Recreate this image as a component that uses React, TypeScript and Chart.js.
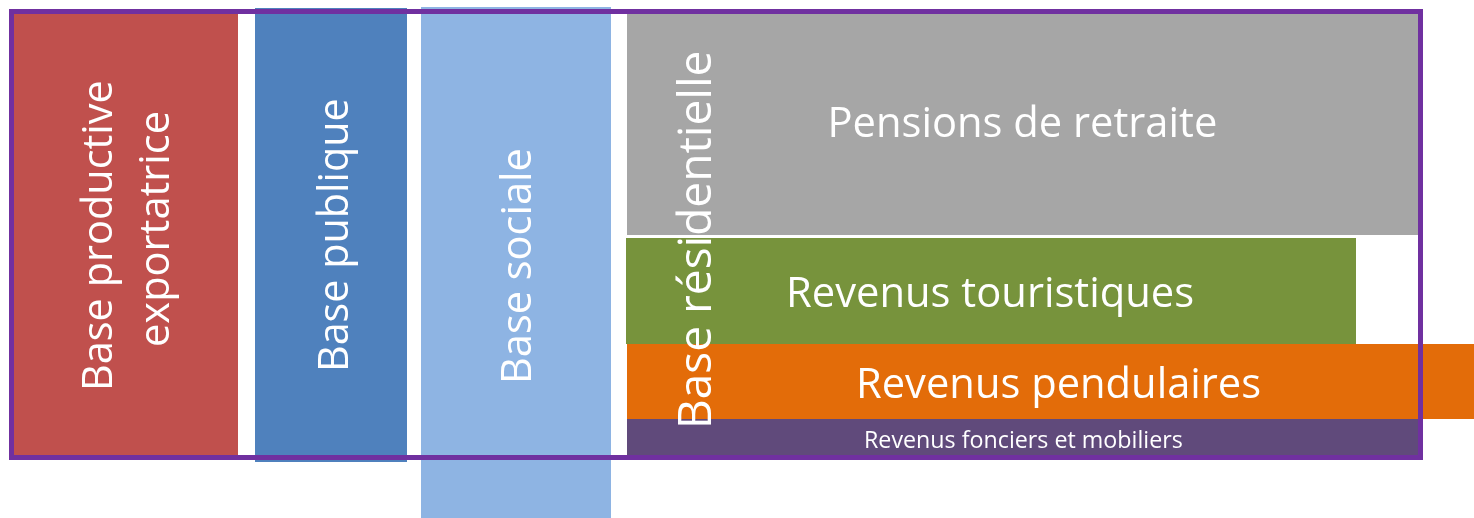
import React, { useEffect, useRef } from "react";
import { Chart, registerables } from "chart.js";

Chart.register(...registerables);

const blockNames = [
  "Base productive exportatrice",
  "Base publique",
  "Base sociale",
  "Pensions de retraite",
  "Revenus touristiques",
  "Revenus pendulaires",
  "Revenus fonciers et mobiliers",
];
const blockStartX = [12, 255, 421, 627, 626, 627, 627];
const blockEndX = [238, 407, 611, 1418, 1356, 1474, 1418];
const blockStartY = [12, 8, 7, 12, 238, 344, 419];
const blockEndY = [456, 462, 518, 235, 344, 419, 456];
const blockColors = ["#C0504D", "#4F81BD", "#8EB4E3", "#A6A6A6", "#77933C", "#E36C09", "#604A7B"];

// Outline of "Base résidentielle" grouping frame
const frameStartX = [11.5];
const frameEndX = [1420.5];
const frameStartY = [11.5];
const frameEndY = [457.5];
const frameColor = "#7030A0";

// Text labels
const labelTexts = [
  "Base productive",
  "exportatrice",
  "Base publique",
  "Base sociale",
  "Base résidentielle",
  "Pensions de retraite",
  "Revenus touristiques",
  "Revenus pendulaires",
  "Revenus fonciers et mobiliers",
];
const labelVertical = [true, true, true, true, true, false, false, false, false];
// centre along the text direction
const labelAlong = [234.5, 229, 234, 265, 239, 1023.5, 991.5, 1060, 1024];
// centre of capital height, across the text direction
const labelAcross = [96.7, 154, 332.7, 516, 694, 121.7, 292, 382.5, 439];
// ink length of the text
const labelLength = [305, 232, 268, 230, 372, 384, 403, 400, 316];

const FONT = '"Open Sans", "Noto Sans", sans-serif';

const schemaPlugin = {
  id: "schema",
  beforeDatasetsDraw(chart: any) {
    const { ctx, scales } = chart;
    const xs = scales.x;
    const ys = scales.y;
    ctx.save();
    // blocks
    for (let i = 0; i < blockNames.length; i++) {
      const x0 = xs.getPixelForValue(blockStartX[i]);
      const x1 = xs.getPixelForValue(blockEndX[i]);
      const y0 = ys.getPixelForValue(blockStartY[i]);
      const y1 = ys.getPixelForValue(blockEndY[i]);
      ctx.fillStyle = blockColors[i];
      ctx.fillRect(Math.min(x0, x1), Math.min(y0, y1), Math.abs(x1 - x0), Math.abs(y1 - y0));
    }
    // labels
    ctx.fillStyle = "#FFFFFF";
    for (let i = 0; i < labelTexts.length; i++) {
      const text = labelTexts[i];
      const vertical = labelVertical[i];
      let len: number;
      let along: number;
      let across: number;
      if (vertical) {
        len = Math.abs(ys.getPixelForValue(labelLength[i]) - ys.getPixelForValue(0));
        along = ys.getPixelForValue(labelAlong[i]);
        across = xs.getPixelForValue(labelAcross[i]);
      } else {
        len = Math.abs(xs.getPixelForValue(labelLength[i]) - xs.getPixelForValue(0));
        along = xs.getPixelForValue(labelAlong[i]);
        across = ys.getPixelForValue(labelAcross[i]);
      }
      ctx.font = `100px ${FONT}`;
      let m = ctx.measureText(text);
      const ink100 = m.actualBoundingBoxLeft + m.actualBoundingBoxRight;
      const size = (100 * len) / ink100;
      ctx.font = `${size}px ${FONT}`;
      m = ctx.measureText(text);
      const capH = ctx.measureText("H").actualBoundingBoxAscent;
      ctx.textAlign = "left";
      ctx.textBaseline = "alphabetic";
      const startX = -len / 2 + m.actualBoundingBoxLeft;
      ctx.save();
      if (vertical) {
        ctx.translate(across + capH / 2, along);
        ctx.rotate(-Math.PI / 2);
      } else {
        ctx.translate(along, across + capH / 2);
      }
      ctx.fillText(text, startX, 0);
      ctx.restore();
    }
    // frame
    ctx.strokeStyle = frameColor;
    ctx.lineWidth = 5;
    ctx.lineJoin = "miter";
    for (let i = 0; i < frameStartX.length; i++) {
      const x0 = xs.getPixelForValue(frameStartX[i]);
      const x1 = xs.getPixelForValue(frameEndX[i]);
      const y0 = ys.getPixelForValue(frameStartY[i]);
      const y1 = ys.getPixelForValue(frameEndY[i]);
      ctx.strokeRect(x0, y0, x1 - x0, y1 - y0);
    }
    ctx.restore();
  },
};

export default function App() {
  const canvasRef = useRef<HTMLCanvasElement | null>(null);

  useEffect(() => {
    const canvas = canvasRef.current;
    if (!canvas) return;
    const chart = new Chart(canvas, {
      type: "scatter",
      data: {
        datasets: [
          {
            label: "blocs",
            data: blockNames.map((_, i) => ({
              x: (blockStartX[i] + blockEndX[i]) / 2,
              y: (blockStartY[i] + blockEndY[i]) / 2,
            })),
            pointRadius: 0,
            pointHoverRadius: 0,
          },
        ],
      },
      options: {
        animation: false,
        responsive: false,
        devicePixelRatio: 1,
        events: [],
        layout: { padding: 0 },
        plugins: {
          legend: { display: false },
          tooltip: { enabled: false },
        },
        scales: {
          x: { type: "linear", min: 0, max: 1474, display: false },
          y: { type: "linear", min: 0, max: 518, reverse: true, display: false },
        },
      },
      plugins: [schemaPlugin],
    });
    return () => chart.destroy();
  }, []);

  return (
    <div style={{ position: "fixed", left: 0, top: 0, width: 1474, height: 518, background: "#FFFFFF" }}>
      <canvas ref={canvasRef} width={1474} height={518} style={{ display: "block", width: 1474, height: 518 }} />
    </div>
  );
}
